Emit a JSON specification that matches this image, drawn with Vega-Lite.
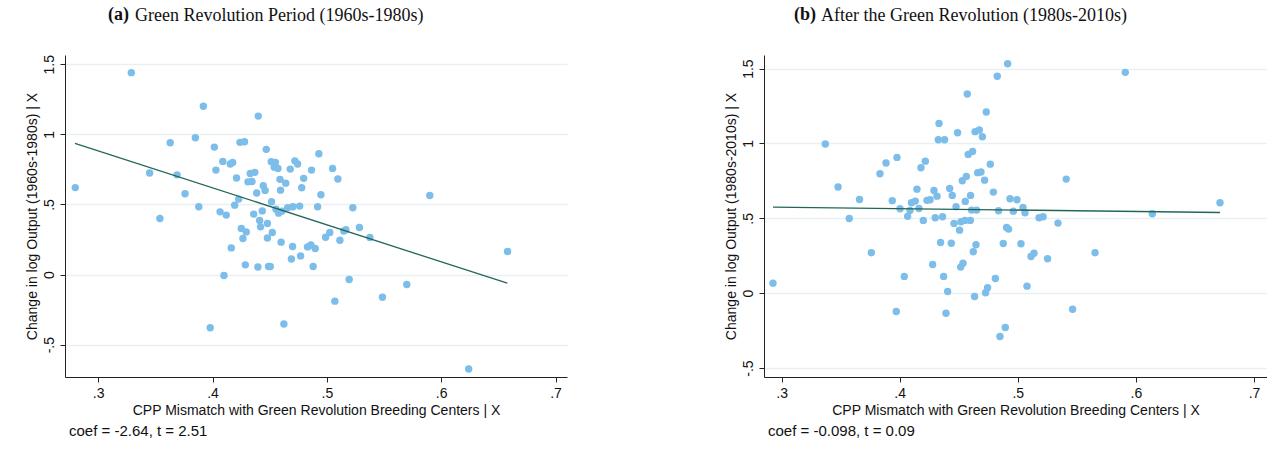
{
  "$schema": "https://vega.github.io/schema/vega-lite/v6.json",
  "background": "white",
  "padding": {"left": 25, "top": 5, "right": 0, "bottom": 0},
  "spacing": 157,
  "datasets": {
    "a": [
      {"x":0.329,"y":1.44},{"x":0.392,"y":1.20},{"x":0.440,"y":1.13},{"x":0.280,"y":0.62},{"x":0.363,"y":0.94},{"x":0.385,"y":0.976},{"x":0.4016,"y":0.909},{"x":0.424,"y":0.943},{"x":0.428,"y":0.947},{"x":0.447,"y":0.893},{"x":0.345,"y":0.724},{"x":0.369,"y":0.711},{"x":0.376,"y":0.576},{"x":0.388,"y":0.483},{"x":0.354,"y":0.40},{"x":0.403,"y":0.745},{"x":0.409,"y":0.807},{"x":0.4155,"y":0.788},{"x":0.4176,"y":0.80},{"x":0.421,"y":0.688},{"x":0.433,"y":0.721},{"x":0.437,"y":0.729},{"x":0.431,"y":0.661},{"x":0.4345,"y":0.664},{"x":0.4386,"y":0.581},{"x":0.4444,"y":0.633},{"x":0.446,"y":0.60},{"x":0.4514,"y":0.804},{"x":0.455,"y":0.80},{"x":0.454,"y":0.766},{"x":0.4572,"y":0.757},{"x":0.459,"y":0.679},{"x":0.464,"y":0.652},{"x":0.4595,"y":0.602},{"x":0.468,"y":0.752},{"x":0.472,"y":0.811},{"x":0.4744,"y":0.788},{"x":0.4866,"y":0.745},{"x":0.4797,"y":0.686},{"x":0.478,"y":0.619},{"x":0.493,"y":0.861},{"x":0.4948,"y":0.569},{"x":0.4229,"y":0.538},{"x":0.4194,"y":0.495},{"x":0.4516,"y":0.519},{"x":0.4066,"y":0.447},{"x":0.412,"y":0.424},{"x":0.436,"y":0.431},{"x":0.4435,"y":0.454},{"x":0.4412,"y":0.386},{"x":0.448,"y":0.364},{"x":0.4555,"y":0.466},{"x":0.4578,"y":0.438},{"x":0.4607,"y":0.452},{"x":0.4657,"y":0.476},{"x":0.4703,"y":0.483},{"x":0.4762,"y":0.488},{"x":0.4919,"y":0.483},
      {"x":0.442,"y":0.34},{"x":0.4252,"y":0.329},{"x":0.4295,"y":0.304},{"x":0.4266,"y":0.257},{"x":0.4523,"y":0.30},{"x":0.448,"y":0.261},{"x":0.4164,"y":0.19},{"x":0.460,"y":0.231},{"x":0.470,"y":0.20},{"x":0.4831,"y":0.197},{"x":0.486,"y":0.211},{"x":0.4898,"y":0.186},{"x":0.469,"y":0.111},{"x":0.477,"y":0.133},{"x":0.4287,"y":0.069},{"x":0.4397,"y":0.054},{"x":0.449,"y":0.057},{"x":0.4505,"y":0.057},{"x":0.488,"y":0.057},{"x":0.410,"y":-0.007},{"x":0.398,"y":-0.38},{"x":0.4624,"y":-0.353},
      {"x":0.505,"y":0.757},{"x":0.5096,"y":0.681},{"x":0.590,"y":0.564},{"x":0.5227,"y":0.476},{"x":0.5285,"y":0.336},
      {"x":0.4989,"y":0.266},{"x":0.5026,"y":0.30},{"x":0.5114,"y":0.245},{"x":0.5148,"y":0.311},{"x":0.5166,"y":0.319},{"x":0.5376,"y":0.264},{"x":0.5195,"y":-0.036},{"x":0.507,"y":-0.19},{"x":0.5486,"y":-0.162},{"x":0.5699,"y":-0.071},{"x":0.658,"y":0.164},{"x":0.624,"y":-0.674}
    ],
    "b": [
      {"x":0.4914,"y":1.533},{"x":0.4826,"y":1.449},{"x":0.4572,"y":1.33},{"x":0.4733,"y":1.21},{"x":0.337,"y":0.996},{"x":0.4333,"y":1.134},{"x":0.4327,"y":1.025},{"x":0.438,"y":1.025},{"x":0.449,"y":1.072},{"x":0.4638,"y":1.079},{"x":0.4674,"y":1.09},{"x":0.470,"y":1.045},{"x":0.458,"y":0.927},{"x":0.4617,"y":0.947},{"x":0.4767,"y":0.862},{"x":0.3977,"y":0.907},{"x":0.3884,"y":0.869},{"x":0.3833,"y":0.798},{"x":0.4217,"y":0.882},{"x":0.418,"y":0.838},{"x":0.3478,"y":0.709},{"x":0.366,"y":0.626},{"x":0.3937,"y":0.618},{"x":0.410,"y":0.604},{"x":0.4132,"y":0.615},{"x":0.4146,"y":0.695},{"x":0.4003,"y":0.564},{"x":0.4087,"y":0.553},{"x":0.4163,"y":0.566},{"x":0.4231,"y":0.62},{"x":0.4257,"y":0.624},{"x":0.429,"y":0.686},{"x":0.4316,"y":0.648},{"x":0.4423,"y":0.70},{"x":0.4445,"y":0.653},{"x":0.4477,"y":0.578},{"x":0.4555,"y":0.613},{"x":0.46,"y":0.653},{"x":0.453,"y":0.751},{"x":0.4564,"y":0.78},{"x":0.466,"y":0.805},{"x":0.4688,"y":0.809},{"x":0.4719,"y":0.755},{"x":0.4793,"y":0.675},{"x":0.4934,"y":0.631},{"x":0.4993,"y":0.624},{"x":0.4609,"y":0.555},{"x":0.4651,"y":0.555},{"x":0.4837,"y":0.551},{"x":0.591,"y":1.475},{"x":0.541,"y":0.762},{"x":0.4962,"y":0.548},{"x":0.5044,"y":0.573},{"x":0.5061,"y":0.537},{"x":0.6712,"y":0.604},{"x":0.6139,"y":0.53},{"x":0.518,"y":0.504},{"x":0.5214,"y":0.511},{"x":0.534,"y":0.468},{"x":0.4905,"y":0.439},{"x":0.4922,"y":0.428},{"x":0.4877,"y":0.332},{"x":0.5027,"y":0.33},{"x":0.5112,"y":0.245},{"x":0.5137,"y":0.267},{"x":0.5252,"y":0.23},{"x":0.5654,"y":0.27},{"x":0.481,"y":0.098},{"x":0.5078,"y":0.047},{"x":0.5464,"y":-0.107},{"x":0.4894,"y":-0.229},{"x":0.4849,"y":-0.289},{"x":0.2927,"y":0.067},{"x":0.3573,"y":0.499},{"x":0.376,"y":0.27},{"x":0.4067,"y":0.513},{"x":0.42,"y":0.486},{"x":0.4301,"y":0.504},{"x":0.4363,"y":0.511},{"x":0.446,"y":0.466},{"x":0.4519,"y":0.477},{"x":0.4553,"y":0.486},{"x":0.4598,"y":0.486},{"x":0.4507,"y":0.421},{"x":0.4346,"y":0.339},{"x":0.4437,"y":0.334},{"x":0.4646,"y":0.324},{"x":0.4623,"y":0.277},{"x":0.4279,"y":0.192},{"x":0.4516,"y":0.174},{"x":0.4536,"y":0.20},{"x":0.4039,"y":0.112},{"x":0.4372,"y":0.112},{"x":0.4406,"y":0.011},{"x":0.4634,"y":-0.022},{"x":0.4727,"y":0.003},{"x":0.4744,"y":0.036},{"x":0.3971,"y":-0.122},{"x":0.4392,"y":-0.134}
    ],
    "fitA": [{"x":0.2797,"y":0.936},{"x":0.6578,"y":-0.062}],
    "fitB": [{"x":0.2927,"y":0.575},{"x":0.6712,"y":0.539}]
  },
  "config": {
    "view": {"stroke": null},
    "axis": {"labelFont": "Liberation Sans", "titleFont": "Liberation Sans", "labelFontSize": 14, "titleFontSize": 14, "titleFontWeight": "normal", "labelColor": "#111", "titleColor": "#111", "domainColor": "#222", "tickColor": "#222", "tickSize": 5, "gridColor": "#e8f0f1", "gridWidth": 1.5, "labelPadding": 4, "titlePadding": 3},
    "title": {"color": "#111"}
  },
  "hconcat": [
    {
      "title": {"text": "(a)", "font": "Liberation Serif", "fontSize": 18, "fontWeight": "bold", "anchor": "start", "dx": 83, "dy": 17, "offset": 0},
      "vconcat": [
        {
          "title": {"text": "Green Revolution Period (1960s-1980s)", "font": "Liberation Serif", "fontSize": 18, "fontWeight": "normal", "anchor": "start", "dx": 110, "offset": 30},
          "vconcat": [
            {
              "width": 502, "height": 322,
              "title": {"text": "coef = -2.64, t = 2.51", "orient": "bottom", "anchor": "start", "frame": "group", "font": "Liberation Sans", "fontSize": 15, "fontWeight": "normal", "offset": 7, "dx": 4},
              "encoding": {
                "x": {"field": "x", "type": "quantitative", "scale": {"domain": [0.271, 0.71], "nice": false, "zero": false}, "axis": {"values": [0.3, 0.4, 0.5, 0.6, 0.7], "grid": false, "title": "CPP Mismatch with Green Revolution Breeding Centers | X", "labelExpr": "replace('' + datum.value, '0.', '.')"}},
                "y": {"field": "y", "type": "quantitative", "scale": {"domain": [-0.731, 1.566], "nice": false, "zero": false}, "axis": {"values": [-0.5, 0, 0.5, 1, 1.5], "grid": true, "labelAngle": -90, "title": "Change in log Output (1960s-1980s) | X", "labelExpr": "replace('' + datum.value, '0.', '.')"}}
              },
              "layer": [
                {"data": {"name": "a"}, "mark": {"type": "circle", "size": 55, "color": "#7cbde9", "opacity": 1}},
                {"data": {"name": "fitA"}, "mark": {"type": "line", "color": "#22665a", "strokeWidth": 1.3}}
              ]
            }
          ]
        }
      ]
    },
    {
      "title": {"text": "(b)", "font": "Liberation Serif", "fontSize": 18, "fontWeight": "bold", "anchor": "start", "dx": 70, "dy": 17, "offset": 0},
      "vconcat": [
        {
          "title": {"text": "After the Green Revolution (1980s-2010s)", "font": "Liberation Serif", "fontSize": 18, "fontWeight": "normal", "anchor": "start", "dx": 97, "offset": 30},
          "vconcat": [
            {
              "width": 503, "height": 322,
              "title": {"text": "coef = -0.098, t = 0.09", "orient": "bottom", "anchor": "start", "frame": "group", "font": "Liberation Sans", "fontSize": 15, "fontWeight": "normal", "offset": 7, "dx": 4},
              "encoding": {
                "x": {"field": "x", "type": "quantitative", "scale": {"domain": [0.2851, 0.711], "nice": false, "zero": false}, "axis": {"values": [0.3, 0.4, 0.5, 0.6, 0.7], "grid": false, "title": "CPP Mismatch with Green Revolution Breeding Centers | X", "labelExpr": "replace('' + datum.value, '0.', '.')"}},
                "y": {"field": "y", "type": "quantitative", "scale": {"domain": [-0.56, 1.591], "nice": false, "zero": false}, "axis": {"values": [-0.5, 0, 0.5, 1, 1.5], "grid": true, "labelAngle": -90, "title": "Change in log Output (1980s-2010s) | X", "labelExpr": "replace('' + datum.value, '0.', '.')"}}
              },
              "layer": [
                {"data": {"name": "b"}, "mark": {"type": "circle", "size": 55, "color": "#7cbde9", "opacity": 1}},
                {"data": {"name": "fitB"}, "mark": {"type": "line", "color": "#22665a", "strokeWidth": 1.3}}
              ]
            }
          ]
        }
      ]
    }
  ]
}
